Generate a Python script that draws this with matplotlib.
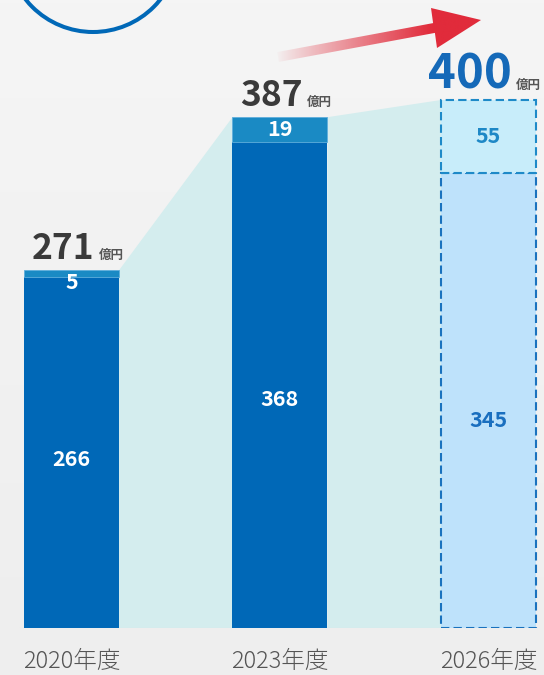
import matplotlib
matplotlib.use('Agg')
import matplotlib.pyplot as plt
import numpy as np
from matplotlib.patches import Polygon, Circle
from matplotlib.colors import to_rgb

# ---- data ----
years = ['2020年度', '2023年度', '2026年度']
base_vals = [266, 368, 345]
top_vals = [5, 19, 55]
totals = [271, 387, 400]
unit = '億円'

plt.rcParams['font.family'] = ['Noto Sans CJK JP', 'DejaVu Sans']

W, H = 544, 675
fig = plt.figure(figsize=(W / 100, H / 100), dpi=100)
fig.patch.set_facecolor('#F2F2F2')

# background
bg = fig.add_axes([0, 0, 1, 1], zorder=0)
bg.axis('off')
grad = np.linspace(0, 1, 200)[:, None] * np.ones((1, 50))
c1 = np.array(to_rgb('#F5F5F5')); c2 = np.array(to_rgb('#EEEEEE'))
img = c1[None, None, :] * (1 - grad[..., None]) + c2[None, None, :] * grad[..., None]
bg.imshow(img, aspect='auto', extent=[0, 1, 0, 1])
bg.set_xlim(0, 1); bg.set_ylim(0, 1)

# main axes: baseline at 628 px from top, 1.32 px per unit, bar spacing 208.5 px
px_per_unit = 1.32
spacing = 208.5
c0 = 71.5
ax = fig.add_axes([0, (H - 628) / H, 1, 628 / H], zorder=1)
ax.set_xlim(-c0 / spacing, (W - c0) / spacing)
ax.set_ylim(0, 628 / px_per_unit)
ax.patch.set_alpha(0)
for s in ax.spines.values():
    s.set_visible(False)
ax.set_yticks([])

x = np.arange(len(years))
w = 95 / spacing

# teal connecting areas
for i in range(len(years) - 1):
    pts = [(x[i] + w / 2, 0), (x[i] + w / 2, totals[i]),
           (x[i + 1] - w / 2, totals[i + 1]), (x[i + 1] - w / 2, 0)]
    ax.add_patch(Polygon(pts, closed=True, facecolor='#D4EDEE', edgecolor='none', zorder=1))

# baseline
ax.plot([-0.25, 2.22], [-0.8, -0.8], color='#DADADA', lw=1.5, zorder=1.5, solid_capstyle='butt')

# actual bars
ax.bar(x[:2], base_vals[:2], w, color='#0068B7', zorder=2)
ax.bar(x[:2], top_vals[:2], w, bottom=base_vals[:2], color='#1A8AC4', zorder=2,
       edgecolor='#5FAEDC', linewidth=0.6)
# target bar (dashed)
ax.bar(x[2], base_vals[2], w, color='#BEE2FB', edgecolor='#1A72BE',
       linestyle=(0, (4, 2)), linewidth=1.5, zorder=2)
ax.bar(x[2], top_vals[2], w, bottom=base_vals[2], color='#C8EDFA', edgecolor='#1E8AC8',
       linestyle=(0, (4, 2)), linewidth=1.5, zorder=2.1)

# value labels
label_frac = [0.48, 0.47, 0.455]
for i in range(len(years)):
    col_b = 'white' if i < 2 else '#1A6FBF'
    col_t = 'white' if i < 2 else '#1E88C6'
    ax.text(x[i], base_vals[i] * label_frac[i], str(base_vals[i]), ha='center', va='center',
            fontsize=15.5, fontweight='bold', color=col_b, zorder=5)
    yt = min(base_vals[i] + top_vals[i] / 2, totals[i] - 9)
    ax.text(x[i], yt, str(top_vals[i]), ha='center', va='center',
            fontsize=15.5, fontweight='bold', color=col_t, zorder=5)

# total labels
for i in range(len(years)):
    big = (i == len(years) - 1)
    col = '#1569B8' if big else '#3A3A3A'
    fs = 34 if big else 25.5
    off_y = 11.5 * 0.72
    ax.annotate(str(totals[i]), (x[i], totals[i]), xytext=(23 * 0.72, off_y),
                textcoords='offset points', ha='right', va='baseline',
                fontsize=fs, fontweight='bold', color=col, zorder=5)
    ax.annotate(unit, (x[i], totals[i]), xytext=(27 * 0.72, off_y),
                textcoords='offset points', ha='left', va='baseline',
                fontsize=9, fontweight='bold', color='#555555', zorder=5)

# x tick labels
ax.set_xticks(x)
ax.set_xticklabels(years, fontsize=17, color='#555555', fontweight='light')
ax.tick_params(axis='x', length=0, pad=15)

# front decorations (pixel coords)
fr = fig.add_axes([0, 0, 1, 1], zorder=3)
fr.set_xlim(0, W); fr.set_ylim(H, 0)
fr.axis('off')
fr.patch.set_alpha(0)
fr.add_patch(Circle((93, -54), 86, fill=False, edgecolor='#0068B7', linewidth=2.9))

arrow_pts = [(277.1, 52.1), (433.1, 23.1), (431, 8), (481, 20), (437, 48),
             (434.9, 32.9), (278.9, 61.9)]
arrow = Polygon(arrow_pts, closed=True, facecolor='none', edgecolor='none')
fr.add_patch(arrow)
gx = np.linspace(0, 1, 300)
alpha = np.clip((gx - 0.0) / 0.75, 0, 1) ** 0.9
red = np.array(to_rgb('#E12B3B'))
gimg = np.zeros((2, 300, 4))
gimg[..., :3] = red
gimg[..., 3] = alpha[None, :]
im = fr.imshow(gimg, extent=[275, 483, 70, 0], aspect='auto', zorder=4)
im.set_clip_path(arrow)
fr.set_xlim(0, W); fr.set_ylim(H, 0)

fig.savefig('out.png', dpi=100, facecolor=fig.get_facecolor())
